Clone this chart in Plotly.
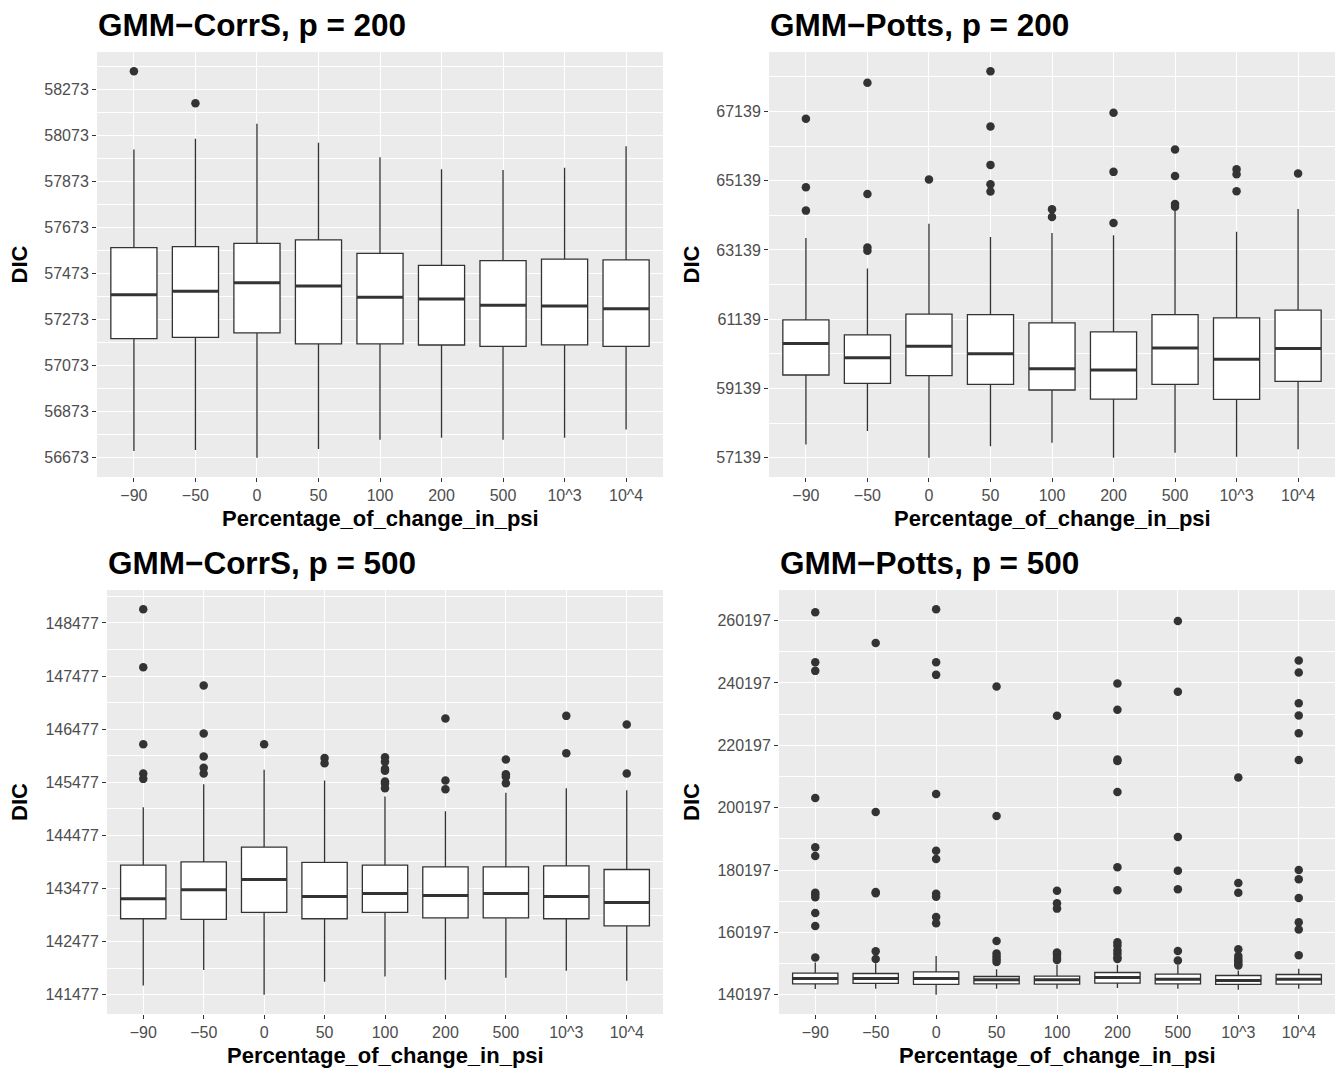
import plotly.graph_objects as go

# ---------------- data ----------------
categories = ["−90", "−50", "0", "50", "100", "200", "500", "10^3", "10^4"]

# Panel 1: GMM−CorrS, p = 200
p1_lower = [56702, 56706, 56673, 56711, 56751, 56760, 56751, 56759, 56795]
p1_q1 = [57190, 57195, 57215, 57167, 57167, 57162, 57156, 57163, 57156]
p1_median = [57380, 57395, 57432, 57418, 57369, 57362, 57335, 57331, 57319]
p1_q3 = [57585, 57589, 57603, 57618, 57560, 57508, 57528, 57535, 57532]
p1_upper = [58011, 58057, 58122, 58040, 57977, 57925, 57922, 57931, 58025]
p1_outliers = [[58350], [58211], [], [], [], [], [], [], []]

# Panel 2: GMM−Potts, p = 200
p2_lower = [57520, 57906, 57139, 57472, 57568, 57139, 57279, 57163, 57385]
p2_q1 = [59527, 59286, 59507, 59257, 59093, 58832, 59257, 58822, 59343]
p2_median = [60434, 60028, 60356, 60144, 59710, 59671, 60308, 59980, 60289]
p2_q3 = [61119, 60684, 61283, 61273, 61032, 60771, 61273, 61177, 61398]
p2_upper = [63482, 62604, 63897, 63511, 63627, 63560, 64274, 63666, 64322]
p2_outliers = [
    [66927, 64949, 64274],
    [67969, 64756, 63212, 63116],
    [65171],
    [68297, 66705, 65595, 65036, 64823],
    [64312, 64090],
    [67100, 65393, 63917],
    [66039, 65277, 64467, 64389],
    [65470, 65325, 64833],
    [65344],
]

# Panel 3: GMM−CorrS, p = 500
p3_lower = [141652, 141941, 141477, 141721, 141821, 141759, 141796, 141928, 141740]
p3_q1 = [142907, 142894, 143026, 142907, 143026, 142925, 142925, 142907, 142775]
p3_median = [143283, 143452, 143647, 143327, 143383, 143346, 143383, 143327, 143214]
p3_q3 = [143917, 143979, 144255, 143967, 143917, 143885, 143885, 143904, 143835]
p3_upper = [145008, 145441, 145711, 145510, 145209, 144933, 145278, 145366, 145328]
p3_outliers = [
    [148734, 147643, 146194, 145642, 145541],
    [147298, 146394, 145962, 145748, 145642],
    [146194],
    [145936, 145836],
    [145949, 145861, 145729, 145692, 145491, 145454, 145366],
    [146677, 145510, 145347],
    [145905, 145629, 145579, 145460],
    [146727, 146024],
    [146564, 145642],
]

# Panel 4: GMM−Potts, p = 500
p4_lower = [142006, 142112, 140197, 142112, 142112, 142325, 142112, 141793, 142112]
p4_q1 = [143708, 143815, 143495, 143708, 143602, 143921, 143708, 143495, 143602]
p4_median = [145411, 145411, 145411, 144985, 144985, 145730, 145198, 144772, 145198]
p4_q3 = [147113, 147007, 147539, 146049, 146155, 147326, 146794, 146368, 146687]
p4_upper = [150518, 150305, 152646, 148390, 149773, 149773, 149773, 147964, 148496]
p4_outliers = [
    [262867, 246847, 244070, 203273, 187466, 184689, 172941, 172300, 171446, 166427, 162261, 152115],
    [253041, 198787, 173155, 172728, 154145, 151688],
    [263828, 246847, 242789, 204554, 186398, 183728, 172621, 171660, 165145, 163116],
    [239051, 197505, 157455, 153397, 152436, 151582, 150727],
    [229652, 173582, 169524, 167815, 153717, 153076, 152008, 151367],
    [240012, 231575, 215661, 215127, 205195, 181058, 173689, 157028, 155960, 154465, 153397, 152222, 151688],
    [260090, 237342, 190777, 179990, 174009, 154251, 151154],
    [209894, 176039, 172941, 154785, 152649, 151688, 150940, 150086, 149553],
    [247381, 243536, 233711, 229759, 224099, 215448, 180197, 177213, 171233, 163436, 161087, 152863],
]

titles = ["GMM−CorrS, p = 200", "GMM−Potts, p = 200", "GMM−CorrS, p = 500", "GMM−Potts, p = 500"]
y_steps = [200, 2000, 1000, 20000]
x_title = "Percentage_of_change_in_psi"
y_title = "DIC"

panels = [
    (p1_lower, p1_q1, p1_median, p1_q3, p1_upper, p1_outliers),
    (p2_lower, p2_q1, p2_median, p2_q3, p2_upper, p2_outliers),
    (p3_lower, p3_q1, p3_median, p3_q3, p3_upper, p3_outliers),
    (p4_lower, p4_q1, p4_median, p4_q3, p4_upper, p4_outliers),
]

# ---------------- layout geometry (pixels) ----------------
W, H = 1340, 1070
# (left, right, top, bottom) of each panel area
boxes_px = [
    (97, 663, 52, 477),
    (769, 1335, 52, 477),
    (107, 663, 590, 1014),
    (779, 1335, 590, 1014),
]

INK = "#333333"
FONT = "Liberation Sans, Arial, Helvetica, sans-serif"
BW = 0.75

fig = go.Figure()
pos = list(range(len(categories)))

for k, (lo, q1, med, q3, up, outs) in enumerate(panels):
    ax = "" if k == 0 else str(k + 1)
    xa, ya = "x" + ax, "y" + ax
    fig.add_trace(go.Box(
        x=pos, q1=q1, median=med, q3=q3, lowerfence=lo, upperfence=up,
        width=BW, fillcolor="white", line=dict(color=INK, width=1.3),
        whiskerwidth=0, boxpoints=False, xaxis=xa, yaxis=ya,
        showlegend=False, hoverinfo="y",
    ))
    # thicker median (ggplot style)
    mx, my = [], []
    for i, m in zip(pos, med):
        mx += [i - BW / 2, i + BW / 2, None]
        my += [m, m, None]
    fig.add_trace(go.Scatter(x=mx, y=my, mode="lines", line=dict(color=INK, width=3),
                             xaxis=xa, yaxis=ya, showlegend=False, hoverinfo="skip"))
    ox, oy = [], []
    for i, o in zip(pos, outs):
        ox += [i] * len(o)
        oy += o
    fig.add_trace(go.Scatter(x=ox, y=oy, mode="markers",
                             marker=dict(color=INK, size=8.5),
                             xaxis=xa, yaxis=ya, showlegend=False))

    allv = lo + up + [v for o in outs for v in o]
    vmin, vmax = min(allv), max(allv)
    pad = (vmax - vmin) * 0.05
    L, R, T, B = boxes_px[k]
    step = y_steps[k]
    fig.layout["xaxis" + ax] = dict(
        domain=[L / W, R / W], anchor=ya, range=[-0.6, len(categories) - 0.4],
        tickmode="array", tickvals=pos, ticktext=categories,
        showgrid=True, gridcolor="white", gridwidth=1.4, zeroline=False,
        ticks="outside", ticklen=4, tickcolor=INK, tickwidth=1,
        tickfont=dict(family=FONT, size=16, color="#4D4D4D"), showline=False,
    )
    fig.layout["yaxis" + ax] = dict(
        domain=[1 - B / H, 1 - T / H], anchor=xa, range=[vmin - pad, vmax + pad],
        tickmode="linear", tick0=vmin, dtick=step, tickformat="d",
        showgrid=True, gridcolor="white", gridwidth=1.4, zeroline=False,
        minor=dict(tick0=vmin + step / 2, dtick=step, showgrid=True,
                   gridcolor="white", gridwidth=0.7, ticks=""),
        ticks="outside", ticklen=4, tickcolor=INK, tickwidth=1,
        tickfont=dict(family=FONT, size=16, color="#4D4D4D"), showline=False,
    )
    # panel title
    fig.add_annotation(text=titles[k], xref="paper", yref="paper",
                       x=(L - 1) / W, y=1 - (T - 27) / H, xanchor="left", yanchor="middle",
                       showarrow=False, font=dict(family=FONT, size=31.5, color="black", weight="bold"))
    # x title
    fig.add_annotation(text=x_title, xref="paper", yref="paper",
                       x=(L + R) / 2 / W, y=1 - (B + 41) / H, xanchor="center", yanchor="middle",
                       showarrow=False, font=dict(family=FONT, size=22, color="black", weight="bold"))
    # y title
    fig.add_annotation(text=y_title, xref="paper", yref="paper", textangle=-90,
                       x=(19 if k % 2 == 0 else 691) / W, y=1 - (T + B) / 2 / H,
                       xanchor="center", yanchor="middle",
                       showarrow=False, font=dict(family=FONT, size=22, color="black", weight="bold"))

fig.update_layout(
    width=W, height=H, margin=dict(l=0, r=0, t=0, b=0),
    paper_bgcolor="white", plot_bgcolor="#EBEBEB", showlegend=False,
)
fig.write_html("out.html", config={"displayModeBar": False},
               post_script="document.body.style.margin='0px';document.body.style.overflow='hidden';")
